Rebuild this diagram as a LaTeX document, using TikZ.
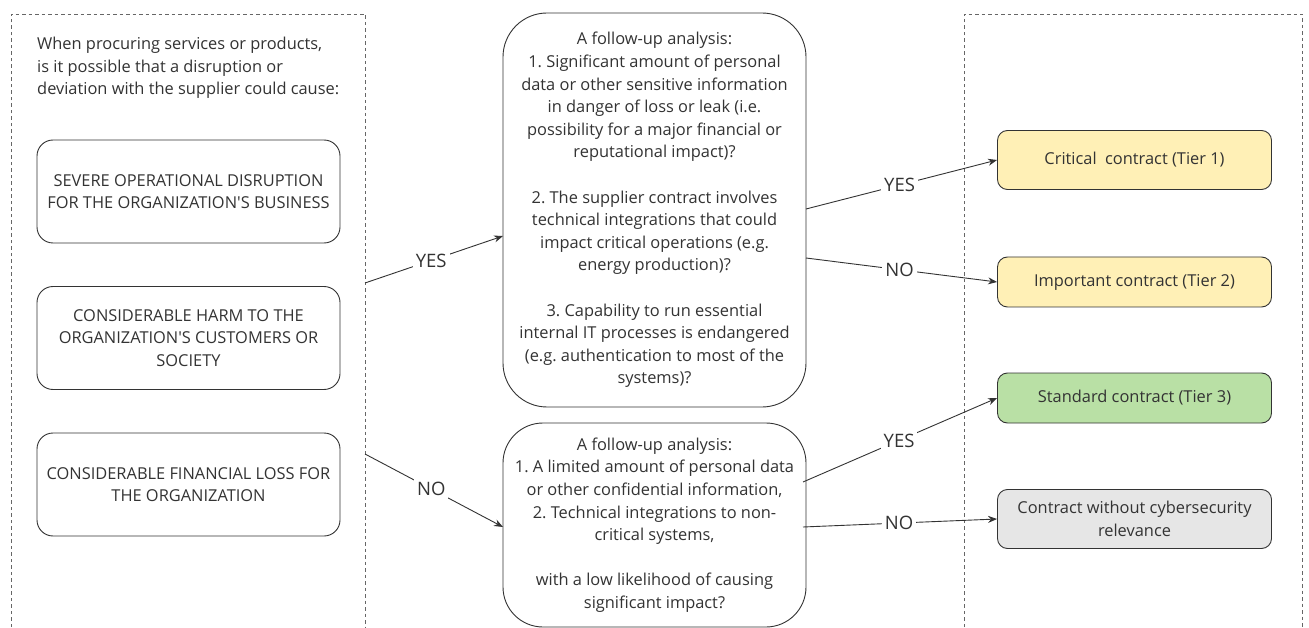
\documentclass[tikz,border=0pt]{standalone}
\usepackage{fontspec}
\setmainfont{Open Sans}[Ligatures=TeXOff]
\usetikzlibrary{arrows.meta}
\frenchspacing
\definecolor{ink}{HTML}{333333}
\definecolor{frame}{HTML}{666666}
\definecolor{yel}{HTML}{FFF0B6}
\definecolor{grn}{HTML}{B9E0A5}
\definecolor{gry}{HTML}{E6E6E6}
\tikzset{
  txt/.style={font=\fontsize{16.4}{22.6}\selectfont, text=ink},
  zone/.style={draw=frame, line width=0.9pt, dash pattern=on 3.5pt off 3pt},
  leftbox/.style={txt, draw=ink, line width=0.9pt, rounded corners=16pt, minimum width=303pt, minimum height=103pt, align=center, inner sep=0pt},
  midbox/.style={txt, draw=ink, line width=0.9pt, rounded corners=44pt, minimum width=303pt, align=center, inner sep=0pt},
  outbox/.style={txt, draw=ink, line width=0.9pt, rounded corners=10pt, minimum width=274pt, align=center, inner sep=0pt},
  conn/.style={draw=ink, line width=0.9pt, -{Stealth[length=9pt,width=7pt]}},
  lbl/.style={font=\fontsize{18.5}{20}\selectfont, text=ink, fill=white, inner sep=3pt},
}
\begin{document}
\begin{tikzpicture}[x=1pt,y=-1pt]
\useasboundingbox (0,0) rectangle (1309,628);
\fill[white] (0,0) rectangle (1309,628);
% zones
\draw[zone] (11,640) -- (11,14) -- (365,14) -- (365,640);
\draw[zone] (964,640) -- (964,14) -- (1302,14) -- (1302,640);
% intro text
\node[txt, anchor=north west, align=left, inner sep=0pt] (intro) at (37,37)
 {When procuring services or products,\\is it possible that a disruption or\\deviation with the supplier could cause:};
% left boxes
\node[leftbox] (b1) at (188.5,191.5) {SEVERE OPERATIONAL DISRUPTION\\FOR THE ORGANIZATION'S BUSINESS};
\node[leftbox] (b2) at (188.5,338) {CONSIDERABLE HARM TO THE\\ORGANIZATION'S CUSTOMERS OR\\SOCIETY};
\node[leftbox] (b3) at (188.5,484.5) {CONSIDERABLE FINANCIAL LOSS FOR\\THE ORGANIZATION};
% middle boxes
\node[midbox, minimum height=394pt] (m1) at (654.5,210)
 {A follow-up analysis:\\1. Significant amount of personal\\data or other sensitive information\\in danger of loss or leak (i.e.\\possibility for a major financial or\\reputational impact)?\\[22.6pt]2. The supplier contract involves\\technical integrations that could\\impact critical operations (e.g.\\energy production)?\\[22.6pt]3. Capability to run essential\\internal IT processes is endangered\\(e.g. authentication to most of the\\systems)?};
\node[midbox, minimum height=204pt, rounded corners=40pt] (m2) at (654.5,525)
 {A follow-up analysis:\\1. A limited amount of personal data\\or other confidential information,\\2. Technical integrations to non-\\critical systems,\\[22.6pt]with a low likelihood of causing\\significant impact?};
% outcome boxes
\node[outbox, fill=yel, minimum height=59pt] (o1) at (1134.5,160) {Critical~ contract (Tier 1)};
\node[outbox, fill=yel, minimum height=50pt] (o2) at (1134.5,282) {Important contract (Tier 2)};
\node[outbox, fill=grn, minimum height=50pt] (o3) at (1134.5,398) {Standard contract (Tier 3)};
\node[outbox, fill=gry, minimum height=59pt] (o4) at (1134.5,519) {Contract without cybersecurity\\relevance};
% connector endpoints
\coordinate (sY) at (365,283);
\coordinate (eY) at (503,236);
\coordinate (sN) at (365,454);
\coordinate (eN) at (503,527);
\coordinate (m1a) at (806,209);
\coordinate (m1b) at (806,258);
\coordinate (m2a) at (803,482);
\coordinate (m2b) at (803,527);
% connectors
\draw[conn] (sY) -- node[lbl, pos=0.48] (lyes) {YES} (eY);
\draw[conn] (sN) -- node[lbl, pos=0.48] (lno) {NO} (eN);
\draw[conn] (m1a) -- node[lbl, pos=0.49] (lyes1) {YES} (o1.west);
\draw[conn] (m1b) -- node[lbl, pos=0.49] (lno1) {NO} (o2.west);
\draw[conn] (m2a) -- node[lbl, pos=0.495] (lyes2) {YES} (o3.west);
\draw[conn] (m2b) -- node[lbl, pos=0.495] (lno2) {NO} (o4.west);
\end{tikzpicture}
\end{document}
